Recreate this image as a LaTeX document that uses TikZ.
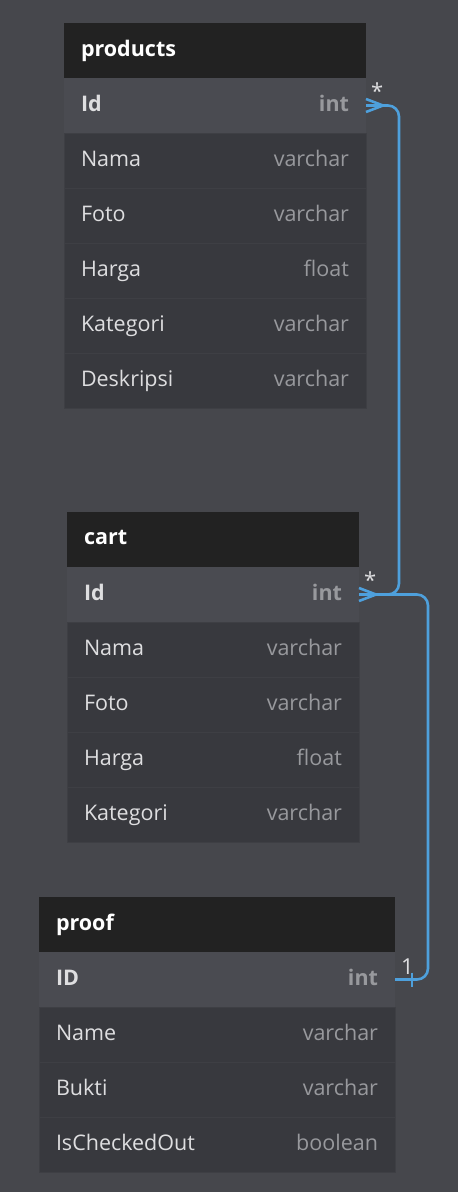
\documentclass[tikz,border=0pt]{standalone}
\usepackage{xcolor}
\usepackage{fontspec}
\setmainfont{Open Sans}
\usepackage{tikz}
\usetikzlibrary{positioning, calc}
\definecolor{pagebg}{RGB}{70, 71, 76}
\definecolor{headbg}{RGB}{34, 34, 34}
\definecolor{keybg}{RGB}{74, 75, 81}
\definecolor{rowbg}{RGB}{56, 57, 62}
\definecolor{rowline}{RGB}{62, 63, 68}
\definecolor{nametext}{RGB}{222, 222, 224}
\definecolor{typetext}{RGB}{152, 153, 157}
\definecolor{relblue}{RGB}{78, 160, 220}

\tikzset{
    tablehead/.style={fill=headbg, text=white, anchor=north west, minimum height=55pt,
          inner xsep=17pt, inner ysep=0pt, outer sep=0pt, align=left, text depth=5pt,
          font=\fontsize{21.5}{24}\selectfont\bfseries},
    keyrow/.style={fill=keybg, text=nametext, minimum height=55pt, inner xsep=17pt, text depth=5pt,
          inner ysep=0pt, outer sep=0pt, align=left, font=\fontsize{21.5}{24}\selectfont\bfseries},
    fieldrow/.style={fill=rowbg, draw=rowline, line width=0.8pt, text=nametext, minimum height=55pt,
          inner xsep=17pt, inner ysep=0pt, outer sep=0pt, align=left, text depth=5pt,
          font=\fontsize{21.5}{24}\selectfont},
    relline/.style={draw=relblue, line width=2.6pt, rounded corners=11pt},
    relmark/.style={text=nametext, inner sep=0pt, font=\fontsize{22}{24}\selectfont}
}

\begin{document}
\begin{tikzpicture}[x=1pt, y=-1pt]
    \fill[pagebg] (0,0) rectangle (458,1192);

    % products
    \node[tablehead, text width=268pt] (products) at (64,23) {products};
    \node[keyrow, text width=268pt, below=0pt of products] (prod-0) {Id\hfill\textcolor{typetext}{int}};
    \foreach \f/\t [count=\i, remember=\i as \j (initially 0)] in
        {Nama/varchar, Foto/varchar, Harga/float, Kategori/varchar, Deskripsi/varchar}
        \node[fieldrow, text width=268pt, below=0pt of prod-\j] (prod-\i) {\f\hfill\textcolor{typetext}{\t}};

    % cart
    \node[tablehead, text width=258pt] (cart) at (67,512) {cart};
    \node[keyrow, text width=258pt, below=0pt of cart] (cart-0) {Id\hfill\textcolor{typetext}{int}};
    \foreach \f/\t [count=\i, remember=\i as \j (initially 0)] in
        {Nama/varchar, Foto/varchar, Harga/float, Kategori/varchar}
        \node[fieldrow, text width=258pt, below=0pt of cart-\j] (cart-\i) {\f\hfill\textcolor{typetext}{\t}};

    % proof
    \node[tablehead, text width=322pt] (proof) at (39,897) {proof};
    \node[keyrow, text width=322pt, below=0pt of proof] (proof-0) {ID\hfill\textcolor{typetext}{int}};
    \foreach \f/\t [count=\i, remember=\i as \j (initially 0)] in
        {Name/varchar, Bukti/varchar, IsCheckedOut/boolean}
        \node[fieldrow, text width=322pt, below=0pt of proof-\j] (proof-\i) {\f\hfill\textcolor{typetext}{\t}};

    % relations
    \draw[relline] (prod-0.east) -- ++(33,0) |- (cart-0.east);
    \draw[relline] (cart-0.east) -- ++(69,0) |- (proof-0.east);

    % crow's feet and the one-tick
    \foreach \n in {prod-0, cart-0}
        \draw[relblue, line width=2.6pt] ($(\n.east)+(17,0)$) -- ($(\n.east)+(0,-6.5)$)
            ($(\n.east)+(17,0)$) -- ($(\n.east)+(0,6.5)$);
    \draw[relblue, line width=2.6pt] ($(proof-0.east)+(17,-7)$) -- ($(proof-0.east)+(17,7)$);

    \node[relmark, anchor=south west] (star-prod) at ($(prod-0.east)+(5,-6)$) {*};
    \node[relmark, anchor=south west] (star-cart) at ($(cart-0.east)+(5,-6)$) {*};
    \node[relmark, anchor=south west] (one-proof) at ($(proof-0.east)+(6,-5)$) {1};
\end{tikzpicture}
\end{document}
